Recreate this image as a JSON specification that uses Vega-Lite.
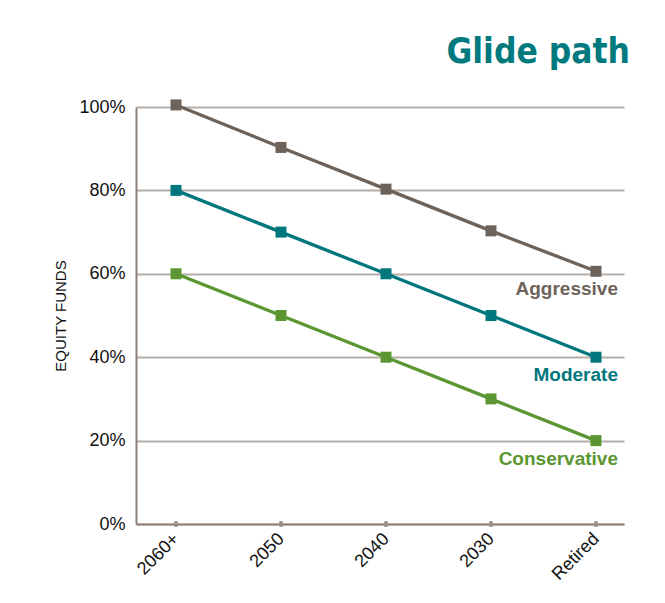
{
  "$schema": "https://vega.github.io/schema/vega-lite/v6.json",
  "autosize": {"type": "none"},
  "width": 488,
  "height": 417,
  "padding": {"left": 136, "top": 107, "right": 41, "bottom": 79},
  "background": "white",
  "config": {"view": {"stroke": null}, "font": "Liberation Sans"},
  "title": {
    "text": "Glide path",
    "anchor": "end",
    "frame": "group",
    "font": "DejaVu Sans Condensed, sans-serif",
    "fontSize": 35,
    "fontWeight": "bold",
    "color": "#007a7e",
    "offset": 28,
    "dx": 6
  },
  "data": {
    "values": [
      {"year": "2060+", "series": "Aggressive", "equity": 100.5},
      {"year": "2050", "series": "Aggressive", "equity": 90.3},
      {"year": "2040", "series": "Aggressive", "equity": 80.3},
      {"year": "2030", "series": "Aggressive", "equity": 70.3},
      {"year": "Retired", "series": "Aggressive", "equity": 60.6},
      {"year": "2060+", "series": "Moderate", "equity": 80},
      {"year": "2050", "series": "Moderate", "equity": 70},
      {"year": "2040", "series": "Moderate", "equity": 60},
      {"year": "2030", "series": "Moderate", "equity": 50},
      {"year": "Retired", "series": "Moderate", "equity": 40},
      {"year": "2060+", "series": "Conservative", "equity": 60},
      {"year": "2050", "series": "Conservative", "equity": 50},
      {"year": "2040", "series": "Conservative", "equity": 40},
      {"year": "2030", "series": "Conservative", "equity": 30},
      {"year": "Retired", "series": "Conservative", "equity": 20}
    ]
  },
  "encoding": {
    "x": {
      "field": "year",
      "type": "ordinal",
      "sort": ["2060+", "2050", "2040", "2030", "Retired"],
      "scale": {"type": "point", "padding": 0.324, "align": 0.588},
      "axis": {
        "title": null,
        "grid": false,
        "ticks": false,
        "domainColor": "#8e827b",
        "domainWidth": 2,
        "labelAngle": -45,
        "labelAlign": "right",
        "labelBaseline": "middle",
        "labelPadding": 12,
        "labelFontSize": 18,
        "labelColor": "#111111",
        "labelFont": "Liberation Sans"
      }
    },
    "y": {
      "field": "equity",
      "type": "quantitative",
      "scale": {"domain": [0, 100], "nice": false, "zero": true},
      "axis": {
        "title": "EQUITY FUNDS",
        "titleFontSize": 15,
        "titleFontWeight": "normal",
        "titleColor": "#111111",
        "titleFont": "Liberation Sans",
        "titlePadding": 10,
        "values": [0, 20, 40, 60, 80, 100],
        "labelExpr": "datum.value + '%'",
        "grid": true,
        "gridColor": "#b5ada8",
        "gridWidth": 2,
        "ticks": false,
        "domainColor": "#8e827b",
        "domainWidth": 2,
        "labelPadding": 11,
        "labelFontSize": 18,
        "labelColor": "#111111",
        "labelFont": "Liberation Sans"
      }
    }
  },
  "layer": [
    {
      "mark": {"type": "point", "shape": "M-0.3,-0.55L0.3,-0.55L0.3,0.55L-0.3,0.55Z", "filled": true, "size": 90, "color": "#9b908a", "opacity": 1},
      "encoding": {"y": {"datum": 0}}
    },
    {
      "mark": {"type": "line", "strokeWidth": 3.3},
      "encoding": {
        "color": {
          "field": "series",
          "type": "nominal",
          "scale": {"domain": ["Aggressive", "Moderate", "Conservative"], "range": ["#6e635b", "#00767d", "#5b9632"]},
          "legend": null
        }
      }
    },
    {
      "mark": {"type": "point", "shape": "square", "filled": true, "size": 121, "opacity": 1},
      "encoding": {
        "color": {"field": "series", "type": "nominal", "legend": null}
      }
    },
    {
      "transform": [{"filter": "datum.year === 'Retired'"}],
      "mark": {"type": "text", "align": "right", "baseline": "middle", "dx": 22, "dy": 18, "fontSize": 19, "fontWeight": "bold", "font": "Liberation Sans"},
      "encoding": {
        "text": {"field": "series"},
        "color": {"field": "series", "type": "nominal", "legend": null}
      }
    }
  ]
}
